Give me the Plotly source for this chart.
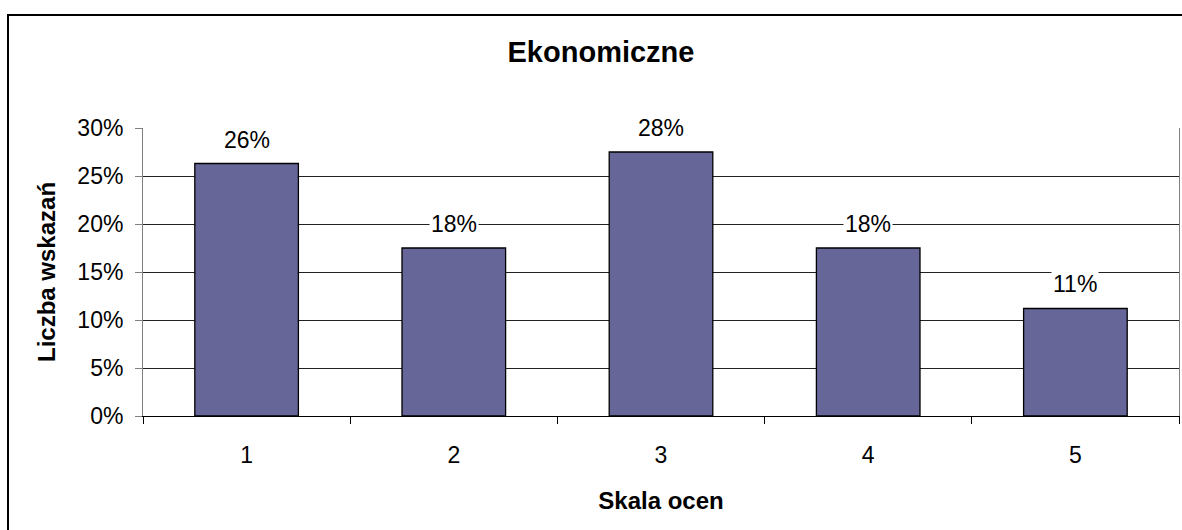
import plotly.graph_objects as go

categories = ["1", "2", "3", "4", "5"]
values = [0.263, 0.175, 0.275, 0.175, 0.112]
labels = ["26%", "18%", "28%", "18%", "11%"]
y_ticks = [0, 0.05, 0.10, 0.15, 0.20, 0.25, 0.30]

FONT = "Liberation Sans, Arial, sans-serif"

fig = go.Figure()
fig.add_trace(go.Bar(
    x=categories, y=values, width=0.5,
    marker=dict(color="#666699", line=dict(color="#000000", width=1.3)),
    hoverinfo="skip",
))

for i, (v, t) in enumerate(zip(values, labels)):
    fig.add_annotation(x=i, y=v, text=t, showarrow=False, yanchor="middle",
                       yshift=24, bgcolor="#ffffff", borderpad=1,
                       font=dict(family=FONT, size=23, color="#000000"))

fig.update_layout(
    width=1182, height=530,
    margin=dict(l=143, r=3, t=128, b=114),
    paper_bgcolor="#ffffff", plot_bgcolor="#ffffff",
    showlegend=False,
    title=dict(text="<b>Ekonomiczne</b>", x=601/1182, xref="container", xanchor="center",
               y=1 - 52/530, yref="container", yanchor="middle",
               font=dict(family=FONT, size=29, color="#000000")),
    font=dict(family=FONT, color="#000000"),
    bargap=0.5,
)

fig.update_xaxes(
    type="category", tickson="boundaries", ticks="outside", ticklen=7,
    tickcolor="#000000", showline=True, linecolor="#000000", linewidth=1,
    ticklabelstandoff=18,
    tickfont=dict(family=FONT, size=23, color="#000000"),
    title=dict(text="<b>Skala ocen</b>", standoff=25,
               font=dict(family=FONT, size=24, color="#000000")),
    showgrid=False, range=[-0.5, 4.5],
)
fig.update_yaxes(
    range=[0, 0.30], tickvals=y_ticks, tickformat=".0%",
    ticks="outside", ticklen=7, tickcolor="#808080",
    showline=True, linecolor="#808080", linewidth=1, mirror=True,
    showgrid=True, gridcolor="#222222", gridwidth=1,
    zeroline=False, ticklabelstandoff=7,
    tickfont=dict(family=FONT, size=23, color="#000000"),
    title=dict(text="<b>Liczba wskazań</b>", standoff=14,
               font=dict(family=FONT, size=24, color="#000000")),
)

# outer chart border
fig.add_shape(type="rect", xref="paper", yref="paper",
              x0=(8 - 143) / 1036, x1=(1194 - 143) / 1036,
              y0=(416 - 540) / 288, y1=(416 - 15) / 288,
              line=dict(color="#000000", width=2), fillcolor="rgba(0,0,0,0)",
              layer="below")

fig.write_html("out.html", config={"displayModeBar": False},
               post_script="document.body.style.margin='0';")
